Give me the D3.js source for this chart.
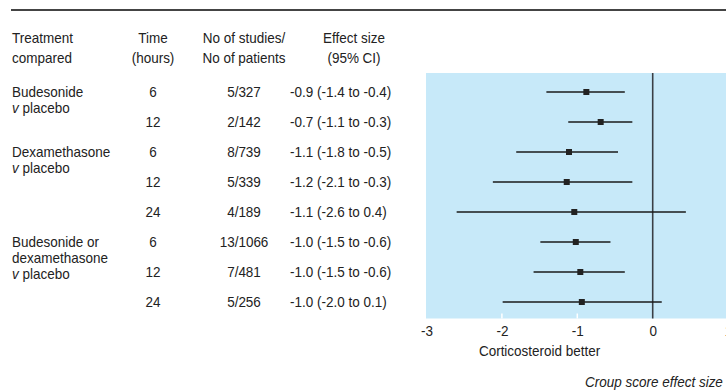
<!DOCTYPE html>
<html>
<head>
<meta charset="utf-8">
<script src="https://cdn.jsdelivr.net/npm/d3@7"></script>
<style>
  html, body { margin: 0; padding: 0; background: #fff; }
  svg { display: block; }
  text { font-family: "Liberation Sans", Arial, sans-serif; fill: #222; }
</style>
</head>
<body>
<div id="svg-container"></div>
<script>
// data
const treatments = [
  ["Budesonide", "v placebo"],
  ["Dexamethasone", "v placebo"],
  ["Budesonide or", "dexamethasone", "v placebo"]
];
const groupStart = [0, 2, 5];
const hours = ["6", "12", "6", "12", "24", "6", "12", "24"];
const studies = ["5/327", "2/142", "8/739", "5/339", "4/189", "13/1066", "7/481", "5/256"];
const effectLabels = [
  "-0.9 (-1.4 to -0.4)", "-0.7 (-1.1 to -0.3)", "-1.1 (-1.8 to -0.5)",
  "-1.2 (-2.1 to -0.3)", "-1.1 (-2.6 to 0.4)", "-1.0 (-1.5 to -0.6)",
  "-1.0 (-1.5 to -0.6)", "-1.0 (-2.0 to 0.1)"
];
const estimates = [-0.88, -0.69, -1.11, -1.14, -1.04, -1.02, -0.96, -0.94];
const lower = [-1.41, -1.12, -1.81, -2.12, -2.6, -1.49, -1.58, -1.99];
const upper = [-0.37, -0.27, -0.46, -0.27, 0.44, -0.56, -0.37, 0.12];
const xTicks = [-3, -2, -1, 0, 1];

////////////////////////////////////////////////////////////////////
const width = 726, height = 390;
const svg = d3.select("#svg-container").append("svg")
  .attr("width", width).attr("height", height);

const panel = { left: 426, top: 73, bottom: 318.5 };

const xScale = d3.scaleLinear().domain([-3, 0]).range([426.5, 652.7]);
const yScale = d3.scaleBand()
  .domain(d3.range(hours.length))
  .range([77, 317]);
const rowY = (i) => yScale(i) + yScale.bandwidth() / 2;

// condensed look: regular face squeezed horizontally
const fs = 15;
const squeeze = 0.9;
function label(x, y, str, anchor) {
  return svg.append("text")
    .attr("transform", `translate(${x},${y}) scale(${squeeze},1)`)
    .attr("dy", "0.35em")
    .attr("text-anchor", anchor || "start")
    .style("font-size", fs + "px")
    .text(str);
}

// top rule
svg.append("line")
  .attr("x1", 11).attr("x2", width)
  .attr("y1", 10).attr("y2", 10)
  .attr("stroke", "#444").attr("stroke-width", 1.8);

// headers
const headers = [
  { x: 12, anchor: "start", lines: ["Treatment", "compared"] },
  { x: 153, anchor: "middle", lines: ["Time", "(hours)"] },
  { x: 244, anchor: "middle", lines: ["No of studies/", "No of patients"] },
  { x: 354, anchor: "middle", lines: ["Effect size", "(95% CI)"] }
];
headers.forEach((h) => {
  h.lines.forEach((l, j) => label(h.x, 38 + j * 20, l, h.anchor));
});

// treatment names
treatments.forEach((t, g) => {
  t.forEach((l, j) => {
    const y = rowY(groupStart[g]) + j * 16;
    if (l.startsWith("v ")) {
      const txt = label(12, y, "", "start");
      txt.append("tspan").style("font-style", "italic").text("v");
      txt.append("tspan").text(" " + l.slice(2));
    } else {
      label(12, y, l, "start");
    }
  });
});

// table columns
const cols = [
  { arr: hours, x: 153, anchor: "middle" },
  { arr: studies, x: 244, anchor: "middle" },
  { arr: effectLabels, x: 290, anchor: "start" }
];
cols.forEach((c) => {
  c.arr.forEach((d, i) => label(c.x, rowY(i), d, c.anchor));
});

// panel
svg.append("rect")
  .attr("x", panel.left).attr("y", panel.top)
  .attr("width", width - panel.left + 10)
  .attr("height", panel.bottom - panel.top)
  .attr("fill", "#c7e9f9");

// white ticks inside panel
svg.selectAll(".wtick").data([-2, -1]).enter().append("line")
  .attr("x1", (d) => xScale(d)).attr("x2", (d) => xScale(d))
  .attr("y1", panel.bottom - 5).attr("y2", panel.bottom)
  .attr("stroke", "#fff").attr("stroke-width", 1.5);

// zero line
svg.append("line")
  .attr("x1", xScale(0)).attr("x2", xScale(0))
  .attr("y1", panel.top).attr("y2", panel.bottom)
  .attr("stroke", "#3a3f45").attr("stroke-width", 1.6);

// CI lines
svg.selectAll(".ci").data(estimates).enter().append("line")
  .attr("x1", (d, i) => xScale(lower[i]))
  .attr("x2", (d, i) => xScale(upper[i]))
  .attr("y1", (d, i) => rowY(i)).attr("y2", (d, i) => rowY(i))
  .attr("stroke", "#1a1a1a").attr("stroke-width", 1.6);

// squares
const sq = 6;
svg.selectAll(".pt").data(estimates).enter().append("rect")
  .attr("x", (d) => xScale(d) - sq / 2)
  .attr("y", (d, i) => rowY(i) - sq / 2)
  .attr("width", sq).attr("height", sq)
  .attr("fill", "#222");

// axis labels
const xAxis = d3.axisBottom(xScale).tickValues(xTicks).tickSize(0).tickPadding(7);
const ax = svg.append("g")
  .attr("transform", `translate(0, ${panel.bottom})`)
  .call(xAxis);
ax.attr("font-family", null);
ax.select(".domain").remove();
ax.selectAll("text")
  .style("font-size", fs + "px")
  .attr("fill", "#222")
  .attr("transform", `scale(${squeeze},1)`)
  .text((d) => d3.format("d")(d).replace("−", "-"));

label(xScale(-1.5), 351, "Corticosteroid better", "middle");

label(585, 382, "Croup score effect size", "start")
  .style("font-style", "italic");
</script>
</body>
</html>
